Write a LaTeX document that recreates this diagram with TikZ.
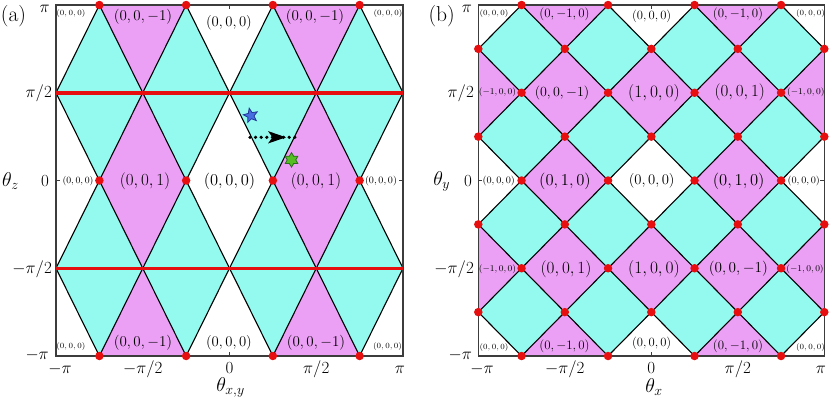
\RequirePackage{fix-cm}
\documentclass[tikz,border=0pt]{standalone}
\usetikzlibrary{shapes.geometric}
\definecolor{cyanf}{RGB}{148,250,240}
\definecolor{magf}{RGB}{236,160,245}
\definecolor{redd}{RGB}{230,14,14}
\definecolor{framec}{RGB}{60,60,60}
\definecolor{starblue}{RGB}{70,110,225}
\definecolor{starblueedge}{RGB}{35,55,150}
\definecolor{stargreen}{RGB}{85,190,35}
\definecolor{stargreenedge}{RGB}{40,110,25}
\newcommand\fsz[1]{\fontsize{#1}{#1}\selectfont}
\begin{document}
\begin{tikzpicture}[x=1pt,y=1pt,
  lbl/.style={inner sep=0pt, text=black},
  tickl/.style={inner sep=0pt, font=\fsz{17}},
  edgeln/.style={line width=1.1pt, draw=black},
  frm/.style={line width=1.4pt, draw=framec},
  redln/.style={line width=3.5pt, draw=redd},
  dot/.style={circle, fill=redd, inner sep=0pt, minimum size=8.5pt},
  tickm/.style={line width=0.9pt, draw=framec},
]
\useasboundingbox (0,0) rectangle (830,-397);

% ---------------- panel (a) ----------------
\begin{scope}[shift={(229.5pt,-180.5pt)}, x={(43.375pt,0pt)}, y={(0pt,43.875pt)}]
  \foreach \t in {-2,0,2} {
    \draw[tickm] (\t,4) -- ++(0,-4pt);
    \draw[tickm] (\t,-4) -- ++(0,4pt);
    \draw[tickm] (-4,\t) -- ++(4pt,0);
    \draw[tickm] (4,\t) -- ++(-4pt,0);
  }
  \begin{scope}
    \clip (-4,-4) rectangle (4,4);
    \foreach \cx in {-3,-1,1,3} \foreach \cy in {-2,2}
      \fill[cyanf] (\cx-1,\cy) -- (\cx,\cy+2) -- (\cx+1,\cy) -- (\cx,\cy-2) -- cycle;
    \foreach \cx in {-2,2} \foreach \cy in {-4,0,4}
      \fill[magf] (\cx-1,\cy) -- (\cx,\cy+2) -- (\cx+1,\cy) -- (\cx,\cy-2) -- cycle;
    \foreach \c in {-5,-3,-1,1,3,5} {
      \draw[edgeln] (\c+2,-4) -- (\c-2,4);
      \draw[edgeln] (\c-2,-4) -- (\c+2,4);
    }
  \end{scope}
  \draw[frm] (-4,-4) rectangle (4,4);
  \draw[redln] (-4,2) -- (4,2);
  \draw[redln] (-4,-2) -- (4,-2);
  \foreach \i in {-3,-1,1,3} \foreach \j in {-4,0,4}
    \node[dot] (da\i\j) at (\i,\j) {};
  \node[star, star points=5, star point ratio=2.3, minimum size=15pt, inner sep=0pt,
        fill=starblue, draw=starblueedge, line width=0.8pt, rotate=12] (bstar) at (0.49,1.48) {};
  \node[star, star points=6, star point ratio=1.7, minimum size=14.5pt, inner sep=0pt,
        fill=stargreen, draw=stargreenedge, line width=0.8pt] (gstar) at (1.43,0.47) {};
\end{scope}

% dotted arrow
\coordinate (arrS) at (250,-137.3);
\coordinate (arrE) at (295,-137.3);
\draw[line width=3.6pt, line cap=round, dash pattern=on 0pt off 5.6pt] (arrS) -- (arrE);
\coordinate (tipA) at (286,-137.3);
\fill[black] (tipA) -- ++(-18,6.2) -- ++(4.5,-6.2) -- ++(-4.5,-6.2) -- cycle;

% panel (a) texts
\node[lbl, font=\fsz{21.5}] (pa) at (13.5,-16) {(a)};
\node[tickl, anchor=east] (ya1) at (50,-9) {$\pi$};
\node[tickl, anchor=east] (ya2) at (52,-93) {$\pi/2$};
\node[tickl, anchor=east] (ya3) at (49,-181) {$0$};
\node[tickl, anchor=east] (ya4) at (52,-269) {$-\pi/2$};
\node[tickl, anchor=east] (ya5) at (49,-355) {$-\pi$};
\node[tickl, anchor=base] (xa1) at (60,-373.5) {$-\pi$};
\node[tickl, anchor=base] (xa2) at (142.75,-373.5) {$-\pi/2$};
\node[tickl, anchor=base] (xa3) at (229.5,-373.5) {$0$};
\node[tickl, anchor=base] (xa4) at (316.25,-373.5) {$\pi/2$};
\node[tickl, anchor=base] (xa5) at (400,-373.5) {$\pi$};
\node[lbl, font=\fsz{20}] (tz) at (10.5,-181) {$\theta_z$};
\node[lbl, font=\fsz{20}] (txy) at (230.5,-387) {$\theta_{x,y}$};

\node[lbl, font=\fsz{15}] (a1) at (143,-17) {$(0,0,-1)$};
\node[lbl, font=\fsz{14.7}] (a2) at (229,-23) {$(0,0,0)$};
\node[lbl, font=\fsz{15}] (a3) at (315,-17) {$(0,0,-1)$};
\node[lbl, font=\fsz{17}] (a4) at (145,-181) {$(0,0,1)$};
\node[lbl, font=\fsz{16.5}] (a5) at (229.5,-181) {$(0,0,0)$};
\node[lbl, font=\fsz{17}] (a6) at (316,-181) {$(0,0,1)$};
\node[lbl, font=\fsz{15}] (a7) at (143,-343) {$(0,0,-1)$};
\node[lbl, font=\fsz{14.7}] (a8) at (229,-343) {$(0,0,0)$};
\node[lbl, font=\fsz{15}] (a9) at (316,-343) {$(0,0,-1)$};
\node[lbl, font=\fsz{7.9}] (as1) at (70.8,-13.3) {$(0,0,0)$};
\node[lbl, font=\fsz{7.9}] (as2) at (388,-13.3) {$(0,0,0)$};
\node[lbl, font=\fsz{9.5}] (as3) at (78,-181) {$(0,0,0)$};
\node[lbl, font=\fsz{9.8}] (as4) at (381,-181) {$(0,0,0)$};
\node[lbl, font=\fsz{7.9}] (as5) at (70.8,-346.7) {$(0,0,0)$};
\node[lbl, font=\fsz{7.9}] (as6) at (387.5,-346.7) {$(0,0,0)$};

% ---------------- panel (b) ----------------
\begin{scope}[shift={(651.3pt,-180.5pt)}, x={(43.25pt,0pt)}, y={(0pt,43.875pt)}]
  \foreach \t in {-2,0,2} {
    \draw[tickm] (\t,4) -- ++(0,-4pt);
    \draw[tickm] (\t,-4) -- ++(0,4pt);
    \draw[tickm] (-4,\t) -- ++(4pt,0);
    \draw[tickm] (4,\t) -- ++(-4pt,0);
  }
  \begin{scope}
    \clip (-4,-4) rectangle (4,4);
    \foreach \cx in {-3,-1,1,3} \foreach \cy in {-3,-1,1,3}
      \fill[cyanf] (\cx-1,\cy) -- (\cx,\cy+1) -- (\cx+1,\cy) -- (\cx,\cy-1) -- cycle;
    \foreach \cx in {-4,-2,0,2,4} \foreach \cy in {-2,2}
      \fill[magf] (\cx-1,\cy) -- (\cx,\cy+1) -- (\cx+1,\cy) -- (\cx,\cy-1) -- cycle;
    \foreach \cx in {-2,2} \foreach \cy in {-4,0,4}
      \fill[magf] (\cx-1,\cy) -- (\cx,\cy+1) -- (\cx+1,\cy) -- (\cx,\cy-1) -- cycle;
    \foreach \c in {-7,-5,-3,-1,1,3,5,7} {
      \draw[edgeln] (\c+4,-4) -- (\c-4,4);
      \draw[edgeln] (\c-4,-4) -- (\c+4,4);
    }
  \end{scope}
  \draw[frm] (-4,-4) rectangle (4,4);
  \foreach \j in {-3,-1,1,3} \foreach \i in {-4,-2,0,2,4}
    \node[dot] (db\i\j) at (\i,\j) {};
  \foreach \j in {-4,-2,0,2,4} \foreach \i in {-3,-1,1,3}
    \node[dot] (db\i\j) at (\i,\j) {};
\end{scope}

% panel (b) texts
\node[lbl, font=\fsz{21.5}] (pb) at (441.7,-16) {(b)};
\node[tickl, anchor=east] (yb1) at (472,-9) {$\pi$};
\node[tickl, anchor=east] (yb2) at (474,-93) {$\pi/2$};
\node[tickl, anchor=east] (yb3) at (472,-181) {$0$};
\node[tickl, anchor=east] (yb4) at (474,-269) {$-\pi/2$};
\node[tickl, anchor=east] (yb5) at (472,-355) {$-\pi$};
\node[tickl, anchor=base] (xb1) at (482,-373.5) {$-\pi$};
\node[tickl, anchor=base] (xb2) at (564.8,-373.5) {$-\pi/2$};
\node[tickl, anchor=base] (xb3) at (651.3,-373.5) {$0$};
\node[tickl, anchor=base] (xb4) at (737.8,-373.5) {$\pi/2$};
\node[tickl, anchor=base] (xb5) at (821,-373.5) {$\pi$};
\node[lbl, font=\fsz{20}] (ty) at (441.7,-181) {$\theta_y$};
\node[lbl, font=\fsz{20}] (tx) at (654,-387) {$\theta_x$};

\node[lbl, font=\fsz{12.9}] (b1) at (564.5,-14) {$(0,-1,0)$};
\node[lbl, font=\fsz{12.6}] (b2) at (651.7,-16.7) {$(0,0,0)$};
\node[lbl, font=\fsz{12.9}] (b3) at (738,-14) {$(0,-1,0)$};
\node[lbl, font=\fsz{7.9}] (b4) at (494,-13.3) {$(0,0,0)$};
\node[lbl, font=\fsz{7.9}] (b5) at (810.5,-13.3) {$(0,0,0)$};

\node[lbl, font=\fsz{8.9}] (b6) at (497.5,-92.7) {$(-1,0,0)$};
\node[lbl, font=\fsz{14}] (b7) at (562,-92.7) {$(0,0,-1)$};
\node[lbl, font=\fsz{17.4}] (b8) at (654,-92.7) {$(1,0,0)$};
\node[lbl, font=\fsz{17}] (b9) at (739.7,-92.7) {$(0,0,1)$};
\node[lbl, font=\fsz{8.9}] (b10) at (805.8,-92.7) {$(-1,0,0)$};

\node[lbl, font=\fsz{9.9}] (b11) at (498.8,-181) {$(0,0,0)$};
\node[lbl, font=\fsz{16.6}] (b12) at (565,-181) {$(0,1,0)$};
\node[lbl, font=\fsz{14.7}] (b13) at (651.7,-181) {$(0,0,0)$};
\node[lbl, font=\fsz{16.6}] (b14) at (738.7,-181) {$(0,1,0)$};
\node[lbl, font=\fsz{9.9}] (b15) at (803.8,-181) {$(0,0,0)$};

\node[lbl, font=\fsz{8.9}] (b16) at (497.5,-269) {$(-1,0,0)$};
\node[lbl, font=\fsz{17.1}] (b17) at (566,-269) {$(0,0,1)$};
\node[lbl, font=\fsz{17.4}] (b18) at (654,-269) {$(1,0,0)$};
\node[lbl, font=\fsz{15.2}] (b19) at (738.3,-269) {$(0,0,-1)$};
\node[lbl, font=\fsz{8.9}] (b20) at (805,-269) {$(-1,0,0)$};

\node[lbl, font=\fsz{7.9}] (b21) at (494,-347.3) {$(0,0,0)$};
\node[lbl, font=\fsz{12.9}] (b22) at (564.5,-346.7) {$(0,-1,0)$};
\node[lbl, font=\fsz{12.6}] (b23) at (651.7,-343.3) {$(0,0,0)$};
\node[lbl, font=\fsz{12.9}] (b24) at (738,-346.7) {$(0,-1,0)$};
\node[lbl, font=\fsz{7.9}] (b25) at (810.5,-347.3) {$(0,0,0)$};
\end{tikzpicture}
\end{document}
